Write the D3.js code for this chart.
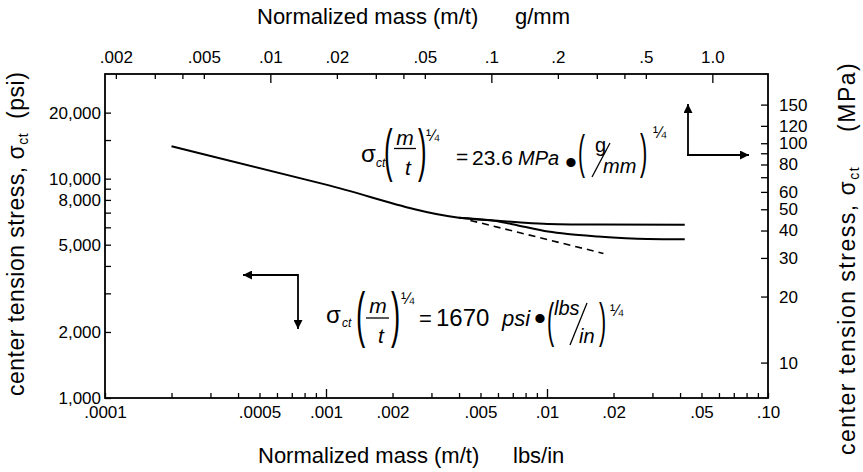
<!DOCTYPE html>
<html>
<head>
<meta charset="utf-8">
<script src="https://cdn.jsdelivr.net/npm/d3@7"></script>
<style>
body { margin: 0; background: #fff; }
svg { font-family: "Liberation Sans", Arial, sans-serif; }
.tick text { font-size: 17px; fill: #000; }
.tick line { stroke: #000; stroke-width: 1.3; }
.title { font-size: 22px; fill: #000; }
</style>
</head>
<body>
<script>
//Data: normalized mass in lbs/in, stress in psi
const upperMass   = [0.0002, 0.001, 0.004, 0.0058, 0.0074, 0.0101, 0.017, 0.042];
const upperStress = [14050, 9390, 6640, 6440, 6330, 6220, 6180, 6170];
const lowerMass   = [0.004, 0.0058, 0.0074, 0.0101, 0.0124, 0.017, 0.0285, 0.042];
const lowerStress = [6640, 6420, 6120, 5740, 5590, 5450, 5310, 5290];
const dashMass    = [0.0045, 0.018];
const dashStress  = [6450, 4560];

//Tick values and labels
const bottomTicks = [1e-4, 1e-3, 1e-2].flatMap(d => d3.range(1, 10).map(k => k * d)).concat([0.1]);
const bottomLabelValues = [0.0001, 0.0005, 0.001, 0.002, 0.005, 0.01, 0.02, 0.05, 0.1];
const bottomLabels = [".0001", ".0005", ".001", ".002", ".005", ".01", ".02", ".05", ".10"];
const bottomMajor = [0.001, 0.01];

const topTicks = [0.002, 0.003, 0.004, 0.005, 0.01, 0.02, 0.03, 0.04, 0.05, 0.1, 0.2, 0.3, 0.4, 0.5, 1.0];
const topLabelValues = [0.002, 0.005, 0.01, 0.02, 0.05, 0.1, 0.2, 0.5, 1.0];
const topLabels = [".002", ".005", ".01", ".02", ".05", ".1", ".2", ".5", "1.0"];
const topMajor = [0.01, 0.1, 1.0];

const leftTicks = [1000, 2000, 3000, 4000, 5000, 6000, 7000, 8000, 9000, 10000, 15000, 20000];
const leftLabelValues = [1000, 2000, 5000, 8000, 10000, 20000];
const leftLabels = ["1,000", "2,000", "5,000", "8,000", "10,000", "20,000"];

const rightTicks = [10, 20, 30, 40, 50, 60, 70, 80, 90, 100, 120, 150];
const rightLabelValues = [10, 20, 30, 40, 50, 60, 80, 100, 120, 150];
const rightLabels = ["10", "20", "30", "40", "50", "60", "80", "100", "120", "150"];

//unit conversions
const gmmPerLbin = 17.858;  // 1 lbs/in in g/mm
const psiPerMPa = 145.04;

//Layout
const width = 863, height = 472;
const plotLeft = 105, plotRight = 768, plotTop = 74, plotBottom = 398;

const near = (a, b) => Math.abs(a - b) / b < 1e-6;
const labeler = (vals, labels) => d => {
    const i = vals.findIndex(v => near(d, v));
    return i < 0 ? "" : labels[i];
};
const isMajor = list => d => list.some(v => near(d, v));

//Scales
const xScale = d3.scaleLog().domain([1e-4, 0.1]).range([plotLeft, plotRight]);
const xTop = d3.scaleLog().domain([1e-4 * gmmPerLbin, 0.1 * gmmPerLbin]).range([plotLeft, plotRight]);
const yScale = d3.scaleLog().domain([1000, 30000]).range([plotBottom, plotTop]);
const yRight = d3.scaleLog().domain([1000 / psiPerMPa, 30000 / psiPerMPa]).range([plotBottom, plotTop]);

const svg = d3.select("body").append("svg")
    .attr("width", width)
    .attr("height", height);

svg.append("defs").append("marker")
    .attr("id", "arrow")
    .attr("viewBox", "0 0 10 10")
    .attr("refX", 10).attr("refY", 5)
    .attr("markerWidth", 10).attr("markerHeight", 9)
    .attr("markerUnits", "userSpaceOnUse")
    .attr("orient", "auto")
    .append("path").attr("d", "M0,0L10,5L0,10z").attr("fill", "#000");

//Axes (ticks point inward)
const gBottom = svg.append("g")
    .attr("transform", "translate(0," + plotBottom + ")")
    .call(d3.axisBottom(xScale).tickValues(bottomTicks).tickSize(-5).tickPadding(8)
        .tickFormat(labeler(bottomLabelValues, bottomLabels)));
gBottom.selectAll(".tick line").attr("y2", d => isMajor(bottomMajor)(d) ? -9 : -5);

const gTop = svg.append("g")
    .attr("transform", "translate(0," + plotTop + ")")
    .call(d3.axisTop(xTop).tickValues(topTicks).tickSize(-5).tickPadding(11)
        .tickFormat(labeler(topLabelValues, topLabels)));
gTop.selectAll(".tick line").attr("y2", d => isMajor(topMajor)(d) ? 9 : 5);

svg.append("g")
    .attr("transform", "translate(" + plotLeft + ",0)")
    .call(d3.axisLeft(yScale).tickValues(leftTicks).tickSize(-6).tickPadding(4)
        .tickFormat(labeler(leftLabelValues, leftLabels)));

svg.append("g")
    .attr("transform", "translate(" + plotRight + ",0)")
    .call(d3.axisRight(yRight).tickValues(rightTicks).tickSize(-7).tickPadding(11)
        .tickFormat(labeler(rightLabelValues, rightLabels)));

svg.selectAll(".domain").remove();

//Frame
svg.append("rect")
    .attr("x", plotLeft).attr("y", plotTop)
    .attr("width", plotRight - plotLeft).attr("height", plotBottom - plotTop)
    .attr("fill", "none").attr("stroke", "#000").attr("stroke-width", 1.8);

//Lines
const line = d3.line()
    .x(d => xScale(d[0]))
    .y(d => yScale(d[1]))
    .curve(d3.curveMonotoneX);

svg.append("path")
    .datum(d3.zip(upperMass, upperStress))
    .attr("d", line)
    .attr("fill", "none").attr("stroke", "#000").attr("stroke-width", 2);

svg.append("path")
    .datum(d3.zip(lowerMass, lowerStress))
    .attr("d", line)
    .attr("fill", "none").attr("stroke", "#000").attr("stroke-width", 2);

svg.append("path")
    .datum(d3.zip(dashMass, dashStress))
    .attr("d", line)
    .attr("fill", "none").attr("stroke", "#000").attr("stroke-width", 1.6)
    .attr("stroke-dasharray", "7,5");

//Axis titles
svg.append("text").attr("class", "title").attr("x", 257).attr("y", 24)
    .text("Normalized mass (m/t)");
svg.append("text").attr("class", "title").attr("x", 515).attr("y", 24)
    .text("g/mm");

svg.append("text").attr("class", "title").attr("x", 258).attr("y", 463)
    .text("Normalized mass (m/t)");
svg.append("text").attr("class", "title").attr("x", 513).attr("y", 463)
    .text("lbs/in");

function sideTitle(x, y, unit, gap, size, spacing) {
    const t = svg.append("text").attr("class", "title")
        .attr("transform", "translate(" + x + "," + y + ") rotate(-90)")
        .style("font-size", size + "px")
        .style("letter-spacing", spacing + "px");
    t.append("tspan").text("center tension stress, \u03c3");
    t.append("tspan").attr("dy", 4).style("font-size", "14px").text("ct");
    t.append("tspan").attr("dy", -4).attr("dx", gap).text(unit);
}
sideTitle(24, 396, "(psi)", 14, 23, 0.5);
sideTitle(855, 455, "(MPa)", 34, 23, 1.5);

//Equation helpers
const eq = svg.append("g");
function txt(x, y, s, size, italic, anchor) {
    return eq.append("text")
        .attr("x", x).attr("y", y)
        .attr("text-anchor", anchor || "start")
        .style("font-size", size + "px")
        .style("font-style", italic ? "italic" : "normal")
        .text(s);
}
function paren(x, yTop, h, s) {
    const size = h / 0.94;
    eq.append("text")
        .attr("transform", "translate(" + x + "," + (yTop + 0.73 * size) + ") scale(0.45,1)")
        .style("font-size", size + "px")
        .text(s);
}
function rule(x1, y1, x2, y2) {
    eq.append("line").attr("x1", x1).attr("x2", x2).attr("y1", y1).attr("y2", y2)
        .attr("stroke", "#000").attr("stroke-width", 1.3);
}

//upper equation (SI)
txt(361, 162, "\u03c3", 24);
txt(376, 167, "ct", 12, true);
paren(384, 128, 54, "(");
txt(405, 145, "m", 21, true, "middle");
rule(394, 148.5, 416, 148.5);
txt(408, 175, "t", 21, true, "middle");
paren(418, 128, 54, ")");
txt(426, 141, "\u00bc", 16);
txt(456, 164, "=", 21);
txt(472, 165, "23.6", 21);
txt(518, 165, "MPa", 20, true);
txt(565, 174, "\u2022", 34);
paren(578, 134, 44, "(");
txt(595, 152, "g", 20);
rule(592, 177, 610, 143);
txt(603, 173, "mm", 20, true);
paren(640, 132, 46, ")");
txt(653, 138, "\u00bc", 16);

//lower equation (US units)
txt(326, 323, "\u03c3", 24);
txt(342, 327, "ct", 12, true);
paren(356, 290, 58, "(");
txt(378, 313, "m", 21, true, "middle");
rule(366, 318, 389, 318);
txt(381, 343, "t", 21, true, "middle");
paren(391, 290, 58, ")");
txt(401, 304, "\u00bc", 16);
txt(419, 326, "=", 22);
txt(436, 326, "1670", 24);
txt(502, 326, "psi", 22, true);
txt(534, 330, "\u2022", 34);
paren(547, 302, 45, "(");
txt(554, 315, "lbs", 20, true);
rule(570, 345, 587, 303);
txt(579, 343, "in", 20, true);
paren(599, 302, 45, ")");
txt(610, 316, "\u00bc", 16);

//Arrows pointing to the axes each equation belongs to
function arrow(x1, y1, x2, y2) {
    svg.append("line")
        .attr("x1", x1).attr("y1", y1).attr("x2", x2).attr("y2", y2)
        .attr("stroke", "#000").attr("stroke-width", 1.8)
        .attr("marker-end", "url(#arrow)");
}
arrow(688, 155, 688, 104);
arrow(687, 155, 749, 155);
arrow(298, 275, 243, 275);
arrow(298, 274, 298, 329);
</script>
</body>
</html>
